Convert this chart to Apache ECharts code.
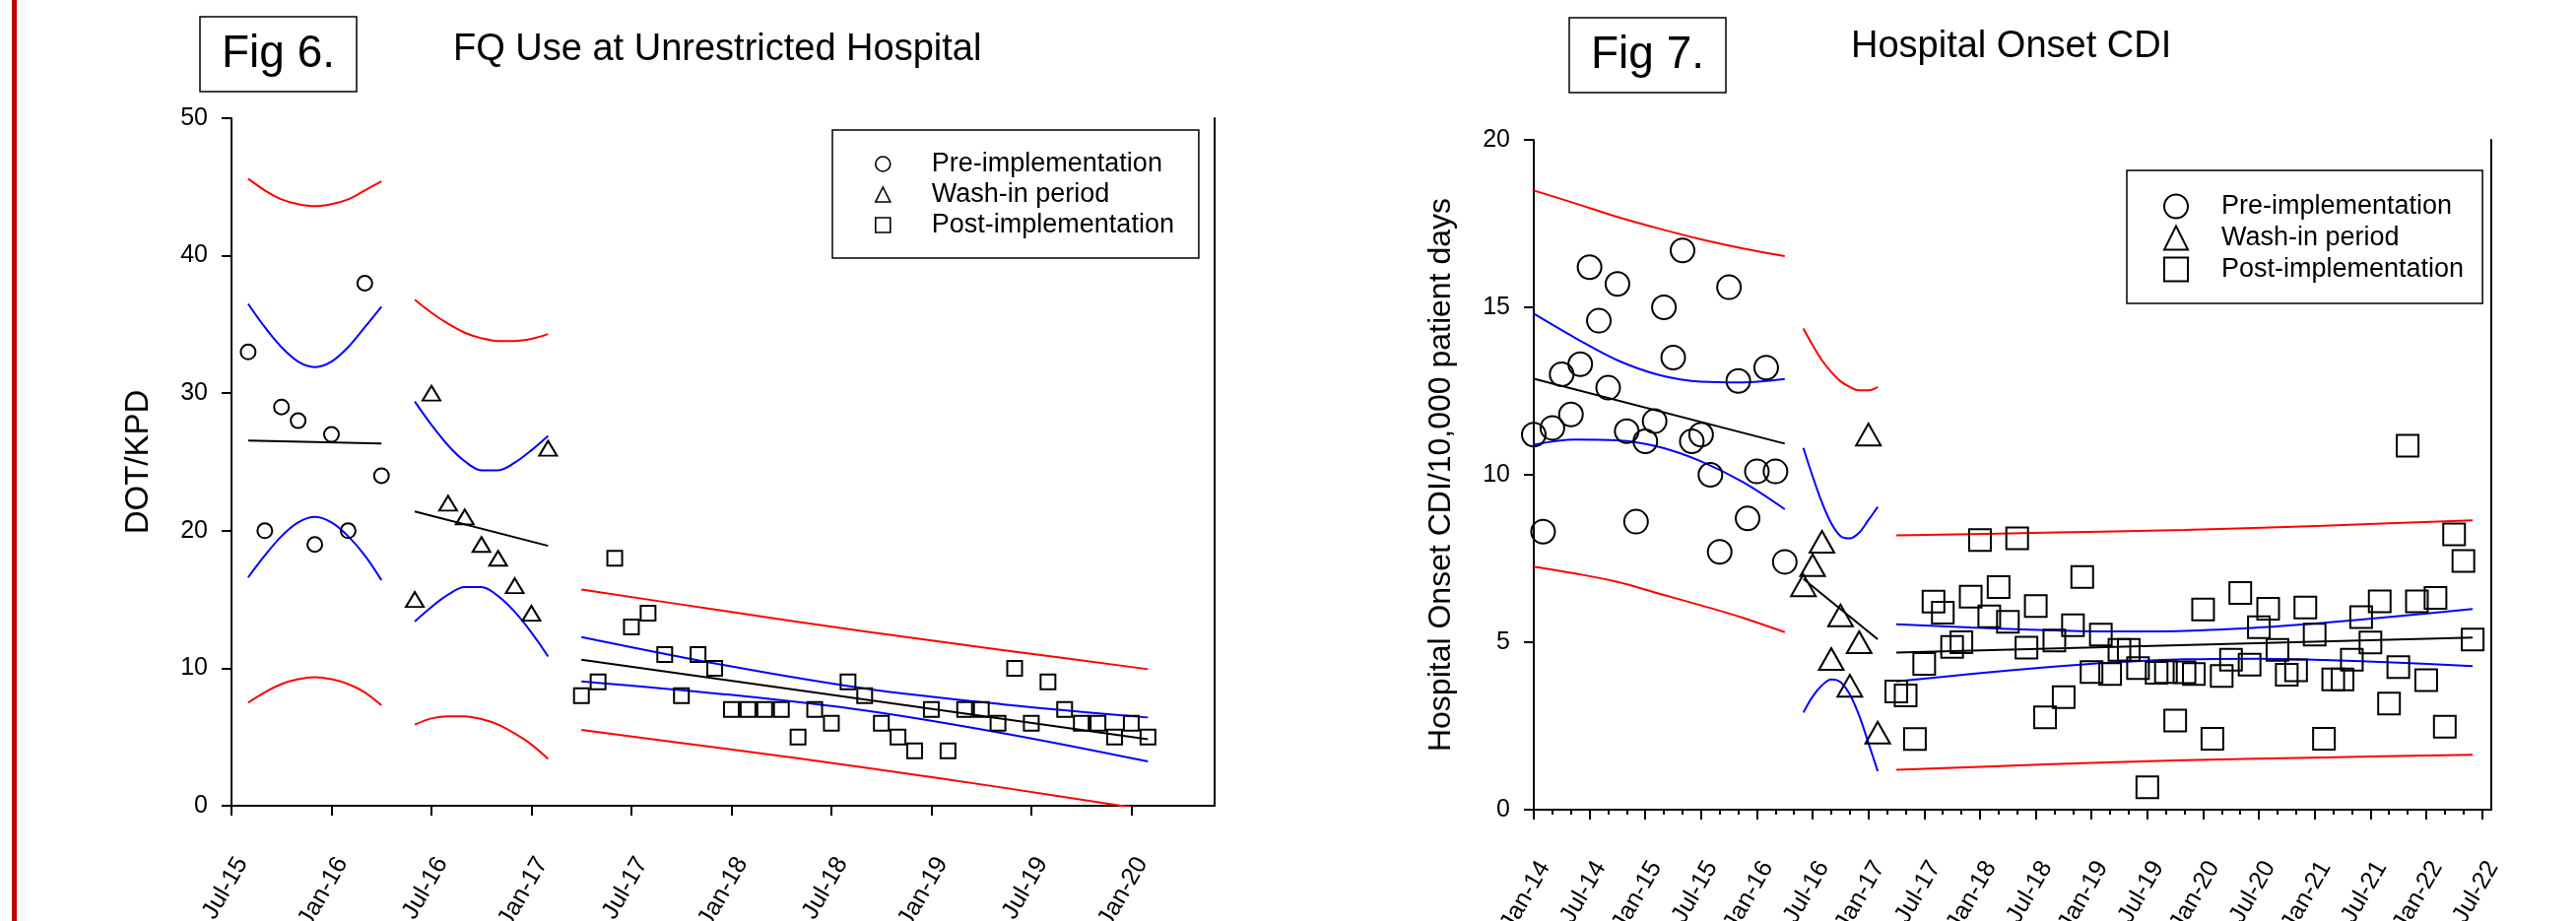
<!DOCTYPE html>
<html>
<head>
<meta charset="utf-8">
<script src="https://cdn.jsdelivr.net/npm/echarts@6/dist/echarts.min.js"></script>
<style>
html,body{margin:0;padding:0;background:#fff;}
#chart{width:2615px;height:935px;}
</style>
</head>
<body>
<div id="chart"></div>
<script>
// ---------- Fig 6 data (x = months since Jul-15) ----------
const fig6TickValues = [0, 6, 12, 18, 24, 30, 36, 42, 48, 54];
const fig6TickLabels = ['Jul-15','Jan-16','Jul-16','Jan-17','Jul-17','Jan-18','Jul-18','Jan-19','Jul-19','Jan-20'];

const fig6PreMonths = [1, 2, 3, 4, 5, 6, 7, 8, 9];
const fig6PreValues = [33, 20, 29, 28, 19, 27, 20, 38, 24];
const fig6WashMonths = [11, 12, 13, 14, 15, 16, 17, 18, 19];
const fig6WashValues = [15, 30, 22, 21, 19, 18, 16, 14, 26];
const fig6PostMonths = [21,22,23,24,25,26,27,28,29,30,31,32,33,34,35,36,37,38,39,40,41,42,43,44,45,46,47,48,49,50,51,52,53,54,55];
const fig6PostValues = [8,9,18,13,14,11,8,11,10,7,7,7,7,5,7,6,9,8,6,5,4,7,4,7,7,6,10,6,9,7,6,6,5,6,5];

const fig6PreFitMonths = [1, 9];
const fig6PreFit = [26.55, 26.35];
const fig6PreBandMonths = [1, 2, 3, 4, 5, 6, 7, 8, 9];
const fig6PreCIUpper = [36.5, 34.8, 33.35, 32.3, 31.9, 32.3, 33.35, 34.8, 36.3];
const fig6PreCILower = [16.6, 18.2, 19.6, 20.6, 21.0, 20.6, 19.6, 18.2, 16.4];
const fig6PrePIUpper = [45.6, 44.75, 44.1, 43.75, 43.6, 43.75, 44.1, 44.75, 45.4];
const fig6PrePILower = [7.5, 8.25, 8.85, 9.2, 9.35, 9.2, 8.85, 8.25, 7.3];

const fig6WashFitMonths = [11, 19];
const fig6WashFit = [21.4, 18.9];
const fig6WashBandMonths = [11, 12, 13, 14, 15, 16, 17, 18, 19];
const fig6WashCIUpper = [29.4, 27.7, 26.2, 25.05, 24.4, 24.4, 24.95, 25.85, 26.9];
const fig6WashCILower = [13.4, 14.45, 15.35, 15.9, 15.9, 15.25, 14.1, 12.6, 10.85];
const fig6WashPIUpper = [36.8, 35.85, 35.05, 34.4, 34.0, 33.8, 33.8, 33.95, 34.3];
const fig6WashPILower = [5.9, 6.35, 6.5, 6.5, 6.3, 5.9, 5.25, 4.45, 3.4];

const fig6PostFitMonths = [21, 55];
const fig6PostFit = [10.62, 4.84];
const fig6PostBandMonths = [21, 29.5, 38, 46.5, 55];
const fig6PostCIUpper = [12.27, 10.24, 8.53, 7.35, 6.42];
const fig6PostCILower = [9.05, 8.12, 6.93, 5.23, 3.22];
const fig6PostPIUpper = [15.73, 14.18, 12.68, 11.29, 9.93];
const fig6PostPILower = [5.51, 4.17, 2.78, 1.28, -0.3];

// ---------- Fig 7 data (x = months since Jan-14) ----------
const fig7TickValues = [0, 6, 12, 18, 24, 30, 36, 42, 48, 54, 60, 66, 72, 78, 84, 90, 96, 102];
const fig7TickLabels = ['Jan-14','Jul-14','Jan-15','Jul-15','Jan-16','Jul-16','Jan-17','Jul-17','Jan-18','Jul-18','Jan-19','Jul-19','Jan-20','Jul-20','Jan-21','Jul-21','Jan-22','Jul-22'];
const fig7MinorTickValues = [2,4,8,10,14,16,20,22,26,28,32,34,38,40,44,46,50,52,56,58,62,64,68,70,74,76,80,82,86,88,92,94,98,100];

const fig7PreMonths = [0,1,2,3,4,5,6,7,8,9,10,11,12,13,14,15,16,17,18,19,20,21,22,23,24,25,26,27];
const fig7PreValues = [11.2,8.3,11.4,13.0,11.8,13.3,16.2,14.6,12.6,15.7,11.3,8.6,11.0,11.6,15.0,13.5,16.7,11.0,11.2,10.0,7.7,15.6,12.8,8.7,10.1,13.2,10.1,7.4];
const fig7WashMonths = [29,30,31,32,33,34,35,36,37];
const fig7WashValues = [6.7,7.3,8.0,4.5,5.8,3.7,5.0,11.2,2.3];
const fig7PostMonths = [39,40,41,42,43,44,45,46,47,48,49,50,51,52,53,54,55,56,57,58,59,60,61,62,63,64,65,66,67,68,69,70,71,72,73,74,75,76,77,78,79,80,81,82,83,84,85,86,87,88,89,90,91,92,93,94,95,96,97,98,99,100,101];
const fig7PostValues = [3.53,3.41,2.11,4.35,6.21,5.88,4.86,5.0,6.36,8.05,5.77,6.65,5.61,8.10,4.84,6.08,2.76,5.05,3.36,5.51,6.95,4.11,5.23,4.05,4.77,4.77,4.23,0.67,4.09,4.11,2.66,4.10,4.05,5.98,2.12,3.99,4.48,6.47,4.33,5.45,6.0,4.77,4.03,4.16,6.04,5.23,2.12,3.89,3.89,4.48,5.75,4.99,6.22,3.17,4.26,10.87,6.22,3.87,6.32,2.48,8.22,7.43,5.08];

const fig7PreFitMonths = [0, 27];
const fig7PreFit = [12.87, 10.93];
const fig7PreBandMonths = [0, 4.5, 9, 13.5, 18, 22.5, 27];
const fig7PreCIUpper = [14.81, 14.08, 13.42, 12.98, 12.78, 12.76, 12.86];
const fig7PreCILower = [10.9, 11.05, 11.03, 10.83, 10.4, 9.78, 8.97];
const fig7PrePIUpper = [18.49, 18.1, 17.7, 17.35, 17.03, 16.76, 16.53];
const fig7PrePILower = [7.26, 7.05, 6.8, 6.45, 6.1, 5.73, 5.30];

const fig7WashFitMonths = [29, 37];
const fig7WashFit = [6.89, 5.09];
const fig7WashBandMonths = [29, 30, 31, 32, 33, 34, 35, 36, 37];
const fig7WashCIUpper = [10.8, 9.95, 9.17, 8.55, 8.17, 8.1, 8.27, 8.65, 9.04];
const fig7WashCILower = [2.9, 3.38, 3.71, 3.89, 3.81, 3.44, 2.81, 1.99, 1.15];
const fig7WashPIUpper = [14.37, 13.87, 13.42, 13.07, 12.79, 12.62, 12.52, 12.52, 12.62];

const fig7PostFitMonths = [39, 101];
const fig7PostFit = [4.69, 5.14];
const fig7PostCIMonths = [39, 47, 55, 62, 70, 78, 85, 93, 101];
const fig7PostCIUpper = [5.54, 5.44, 5.36, 5.32, 5.34, 5.44, 5.58, 5.78, 5.99];
const fig7PostCILower = [3.83, 4.05, 4.25, 4.39, 4.49, 4.51, 4.47, 4.39, 4.29];
const fig7PostPIMonths = [39, 55, 70, 85, 101];
const fig7PostPIUpper = [8.19, 8.27, 8.355, 8.48, 8.64];
const fig7PostPILower = [1.19, 1.35, 1.475, 1.56, 1.64];

const legendNames = ['Pre-implementation', 'Wash-in period', 'Post-implementation'];

// ---------- build option ----------
const FONT = '"Liberation Sans", Arial, Helvetica, sans-serif';
const RED = '#ff0000', BLUE = '#0000ff', BLACK = '#000000';

function pairs(xs, ys) { return xs.map((x, i) => [x, ys[i]]); }

function lineSeries(xs, ys, color, xi, yi) {
  return {
    type: 'line', xAxisIndex: xi, yAxisIndex: yi,
    data: pairs(xs, ys), symbol: 'none', showSymbol: false,
    smooth: 0.35, silent: true, z: 2,
    lineStyle: { color: color, width: 2 }
  };
}
function scatterSeries(name, xs, ys, symbol, size, xi, yi) {
  return {
    type: 'scatter', name: name, xAxisIndex: xi, yAxisIndex: yi,
    data: pairs(xs, ys), symbol: symbol, symbolSize: size, z: 4,
    itemStyle: { color: 'rgba(0,0,0,0)', borderColor: '#000', borderWidth: 2, opacity: 1 }
  };
}

const axisLineStyle = { color: '#000', width: 2 };

function xAxisMain(gi, max, ticks, labels) {
  return {
    type: 'value', gridIndex: gi, min: 0, max: max, position: 'bottom',
    axisLine: { show: true, onZero: false, lineStyle: axisLineStyle },
    axisTick: { show: true, customValues: ticks, length: 10, lineStyle: axisLineStyle },
    axisLabel: {
      show: true, customValues: ticks, rotate: 60, margin: 48, verticalAlign: 'top',
      fontSize: 25, color: '#000', fontFamily: FONT, hideOverlap: false,
      formatter: function (v) { const k = ticks.indexOf(v); return k >= 0 ? labels[k] : ''; }
    },
    splitLine: { show: false }
  };
}
function yAxisMain(gi, max, interval, name, nameGap, nameSize) {
  return {
    type: 'value', gridIndex: gi, min: 0, max: max, interval: interval, position: 'left',
    name: name, nameLocation: 'middle', nameGap: nameGap,
    nameTextStyle: { fontSize: nameSize, color: '#000', fontFamily: FONT },
    axisLine: { show: true, onZero: false, lineStyle: axisLineStyle },
    axisTick: { show: true, length: 10, lineStyle: axisLineStyle },
    axisLabel: { fontSize: 25, color: '#000', margin: 24, fontFamily: FONT },
    splitLine: { show: false }
  };
}
function yAxisBorder(gi, max) {
  return {
    type: 'value', gridIndex: gi, min: 0, max: max, position: 'right',
    axisLine: { show: true, onZero: false, lineStyle: axisLineStyle },
    axisTick: { show: false }, axisLabel: { show: false }, splitLine: { show: false }
  };
}

const series = [
  // Fig 6 bands
  lineSeries(fig6PreBandMonths, fig6PrePIUpper, RED, 0, 0),
  lineSeries(fig6PreBandMonths, fig6PrePILower, RED, 0, 0),
  lineSeries(fig6PreBandMonths, fig6PreCIUpper, BLUE, 0, 0),
  lineSeries(fig6PreBandMonths, fig6PreCILower, BLUE, 0, 0),
  lineSeries(fig6PreFitMonths, fig6PreFit, BLACK, 0, 0),
  lineSeries(fig6WashBandMonths, fig6WashPIUpper, RED, 0, 0),
  lineSeries(fig6WashBandMonths, fig6WashPILower, RED, 0, 0),
  lineSeries(fig6WashBandMonths, fig6WashCIUpper, BLUE, 0, 0),
  lineSeries(fig6WashBandMonths, fig6WashCILower, BLUE, 0, 0),
  lineSeries(fig6WashFitMonths, fig6WashFit, BLACK, 0, 0),
  lineSeries(fig6PostBandMonths, fig6PostPIUpper, RED, 0, 0),
  lineSeries(fig6PostBandMonths, fig6PostPILower, RED, 0, 0),
  lineSeries(fig6PostBandMonths, fig6PostCIUpper, BLUE, 0, 0),
  lineSeries(fig6PostBandMonths, fig6PostCILower, BLUE, 0, 0),
  lineSeries(fig6PostFitMonths, fig6PostFit, BLACK, 0, 0),
  // Fig 6 points
  scatterSeries(legendNames[0], fig6PreMonths, fig6PreValues, 'circle', 15, 0, 0),
  scatterSeries(legendNames[1], fig6WashMonths, fig6WashValues, 'triangle', [18, 15], 0, 0),
  scatterSeries(legendNames[2], fig6PostMonths, fig6PostValues, 'rect', 15, 0, 0),
  // Fig 7 bands
  lineSeries(fig7PreBandMonths, fig7PrePIUpper, RED, 1, 2),
  lineSeries(fig7PreBandMonths, fig7PrePILower, RED, 1, 2),
  lineSeries(fig7PreBandMonths, fig7PreCIUpper, BLUE, 1, 2),
  lineSeries(fig7PreBandMonths, fig7PreCILower, BLUE, 1, 2),
  lineSeries(fig7PreFitMonths, fig7PreFit, BLACK, 1, 2),
  lineSeries(fig7WashBandMonths, fig7WashPIUpper, RED, 1, 2),
  lineSeries(fig7WashBandMonths, fig7WashCIUpper, BLUE, 1, 2),
  lineSeries(fig7WashBandMonths, fig7WashCILower, BLUE, 1, 2),
  lineSeries(fig7WashFitMonths, fig7WashFit, BLACK, 1, 2),
  lineSeries(fig7PostPIMonths, fig7PostPIUpper, RED, 1, 2),
  lineSeries(fig7PostPIMonths, fig7PostPILower, RED, 1, 2),
  lineSeries(fig7PostCIMonths, fig7PostCIUpper, BLUE, 1, 2),
  lineSeries(fig7PostCIMonths, fig7PostCILower, BLUE, 1, 2),
  lineSeries(fig7PostFitMonths, fig7PostFit, BLACK, 1, 2),
  // Fig 7 points
  scatterSeries(legendNames[0], fig7PreMonths, fig7PreValues, 'circle', 24, 1, 2),
  scatterSeries(legendNames[1], fig7WashMonths, fig7WashValues, 'triangle', [25, 22], 1, 2),
  scatterSeries(legendNames[2], fig7PostMonths, fig7PostValues, 'rect', 22, 1, 2)
];

const option = {
  animation: false,
  backgroundColor: '#ffffff',
  textStyle: { fontFamily: FONT, color: '#000' },
  graphic: [
    { type: 'rect', left: 12, top: 0, shape: { width: 5, height: 935 }, style: { fill: '#c00000' } }
  ],
  title: [
    { text: 'Fig 6.', left: 203, top: 17, padding: [14, 22, 14, 22], borderColor: '#000', borderWidth: 1.5,
      textStyle: { fontSize: 46, lineHeight: 48, fontWeight: 'normal', color: '#000', fontFamily: FONT } },
    { text: 'FQ Use at Unrestricted Hospital', left: 460, top: 30, padding: 0,
      textStyle: { fontSize: 38, lineHeight: 42, fontWeight: 'normal', color: '#000', fontFamily: FONT } },
    { text: 'Fig 7.', left: 1593, top: 18, padding: [14, 22, 14, 22], borderColor: '#000', borderWidth: 1.5,
      textStyle: { fontSize: 46, lineHeight: 48, fontWeight: 'normal', color: '#000', fontFamily: FONT } },
    { text: 'Hospital Onset CDI', left: 1879, top: 27, padding: 0,
      textStyle: { fontSize: 38, lineHeight: 42, fontWeight: 'normal', color: '#000', fontFamily: FONT } }
  ],
  legend: [
    { data: legendNames, orient: 'vertical', left: 845, top: 132, padding: [21, 25, 20, 43],
      itemWidth: 15, itemHeight: 15, itemGap: 4, selectedMode: false,
      itemStyle: { borderWidth: 1.6 },
      borderColor: '#000', borderWidth: 1.5, backgroundColor: '#fff',
      textStyle: { fontSize: 27, color: '#000', fontFamily: FONT, padding: [0, 0, 0, 37] } },
    { data: legendNames, orient: 'vertical', left: 2159, top: 173, padding: [23, 19, 21, 37],
      itemWidth: 24, itemHeight: 24, itemGap: 5, selectedMode: false,
      itemStyle: { borderWidth: 2 },
      borderColor: '#000', borderWidth: 1.5, backgroundColor: '#fff',
      textStyle: { fontSize: 27, color: '#000', fontFamily: FONT, padding: [0, 0, 0, 29] } }
  ],
  grid: [
    { left: 235, top: 120, width: 998, height: 698, containLabel: false, outerBoundsMode: 'none' },
    { left: 1557, top: 142, width: 972, height: 680, containLabel: false, outerBoundsMode: 'none' }
  ],
  xAxis: [
    xAxisMain(0, 59, fig6TickValues, fig6TickLabels),
    xAxisMain(1, 103, fig7TickValues, fig7TickLabels),
    {
      type: 'value', gridIndex: 1, min: 0, max: 103, position: 'bottom',
      axisLine: { show: false, onZero: false },
      axisTick: { show: true, customValues: fig7MinorTickValues, length: 5, lineStyle: axisLineStyle },
      axisLabel: { show: false }, splitLine: { show: false }
    }
  ],
  yAxis: [
    yAxisMain(0, 50, 10, 'DOT/KPD', 78, 33),
    yAxisBorder(0, 50),
    yAxisMain(1, 20, 5, 'Hospital Onset CDI/10,000 patient days', 78, 32),
    yAxisBorder(1, 20)
  ],
  series: series
};

const chart = echarts.init(document.getElementById('chart'), null, { renderer: 'canvas' });
chart.setOption(option);
</script>
</body>
</html>
